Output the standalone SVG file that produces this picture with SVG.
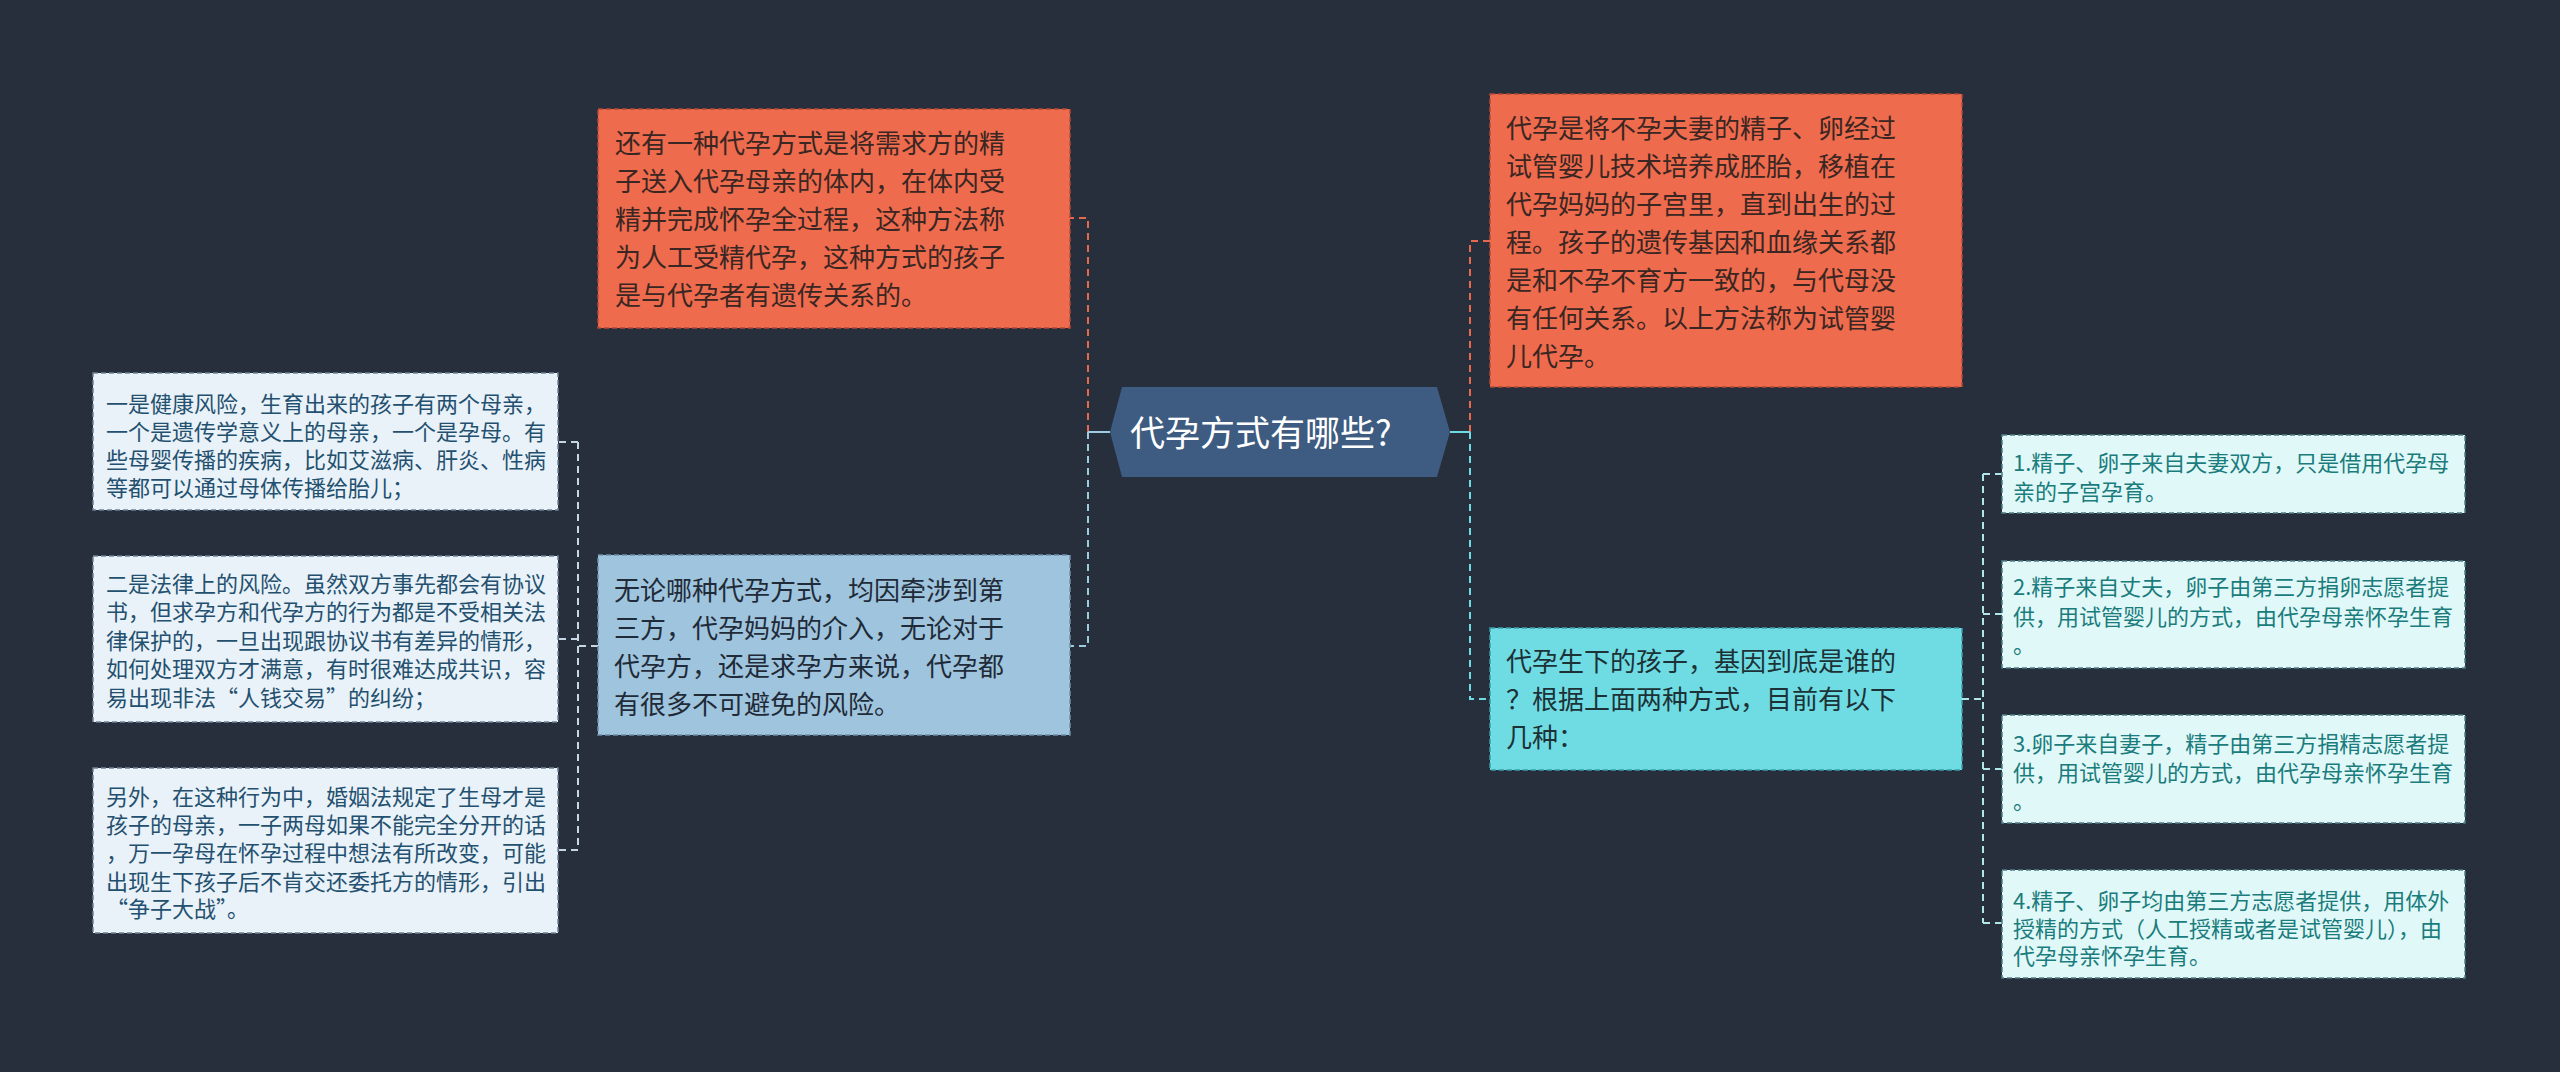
<svg xmlns="http://www.w3.org/2000/svg" width="2560" height="1072" viewBox="0 0 2560 1072">
<style>
text{font-family:"Noto Sans CJK SC","Noto Sans",sans-serif;}
.t26{font-size:26px;}
.t22{font-size:22px;}
.c{fill:none;stroke-width:2;stroke-dasharray:7 5;}
.orange rect{fill:#ee6b4d;stroke:#b44a35;stroke-width:1.5;stroke-dasharray:5 3;}
.orange text{fill:#3a2622;}
.blue rect{fill:#9fc4dd;stroke:#6f8ea8;stroke-width:1.5;stroke-dasharray:5 3;}
.blue text{fill:#1f2b38;}
.cyan rect{fill:#6fdce4;stroke:#3a9fa8;stroke-width:1.5;stroke-dasharray:5 3;}
.cyan text{fill:#1c3236;}
.lb rect{fill:#e9f2f8;stroke:#6f8296;stroke-width:1.5;stroke-dasharray:5 3;}
.lb text{fill:#24506f;}
.lc rect{fill:#e1f8f9;stroke:#4f7f86;stroke-width:1.5;stroke-dasharray:5 3;}
.lc text{fill:#1a7c7c;}
</style>
<rect x="0" y="0" width="2560" height="1072" fill="#272f3d"/>
<g id="connectors">
  <path class="c" d="M1088 432 V218 H1070" stroke="#e6694d"/>
  <path class="c" d="M1088 432 V646 H1070" stroke="#9fcbe1"/>
  <path d="M1088 432 H1110" stroke="#9fcbe1" stroke-width="2" fill="none"/>
  <path class="c" d="M1470 432 V241 H1490" stroke="#e6694d"/>
  <path class="c" d="M1470 432 V699 H1490" stroke="#6fdce4"/>
  <path d="M1450 432 H1470" stroke="#6fdce4" stroke-width="2" fill="none"/>
  <path class="c" d="M598 646 H578 M578 442 V850 M578 442 H558 M578 639 H558 M578 850 H558" stroke="#c5d6e4"/>
  <path class="c" d="M1962 699 H1983 M1983 474 V923 M1983 474 H2002 M1983 614 H2002 M1983 769 H2002 M1983 923 H2002" stroke="#aee6ea"/>
</g>
<g id="root">
  <polygon points="1110,432 1122,387 1437,387 1450,432 1437,477 1122,477" fill="#3e5b81"/>
  <text x="1130" y="446" font-size="35" fill="#ffffff">代孕方式有哪些?</text>
</g>
<g id="n1" class="orange">
  <rect x="598" y="109" width="472" height="219"/>
  <text class="t26" x="615" y="153">还有一种代孕方式是将需求方的精</text>
  <text class="t26" x="615" y="191">子送入代孕母亲的体内，在体内受</text>
  <text class="t26" x="615" y="229">精并完成怀孕全过程，这种方法称</text>
  <text class="t26" x="615" y="267">为人工受精代孕，这种方式的孩子</text>
  <text class="t26" x="615" y="305">是与代孕者有遗传关系的。</text>
</g>
<g id="n2" class="blue">
  <rect x="598" y="555" width="472" height="180"/>
  <text class="t26" x="614" y="600">无论哪种代孕方式，均因牵涉到第</text>
  <text class="t26" x="614" y="638">三方，代孕妈妈的介入，无论对于</text>
  <text class="t26" x="614" y="676">代孕方，还是求孕方来说，代孕都</text>
  <text class="t26" x="614" y="714">有很多不可避免的风险。</text>
</g>
<g id="n3" class="lb">
  <rect x="93" y="373" width="465" height="137"/>
  <text class="t22" x="106" y="412">一是健康风险，生育出来的孩子有两个母亲，</text>
  <text class="t22" x="106" y="440">一个是遗传学意义上的母亲，一个是孕母。有</text>
  <text class="t22" x="106" y="468">些母婴传播的疾病，比如艾滋病、肝炎、性病</text>
  <text class="t22" x="106" y="496">等都可以通过母体传播给胎儿；</text>
</g>
<g id="n4" class="lb">
  <rect x="93" y="556" width="465" height="166"/>
  <text class="t22" x="106" y="592">二是法律上的风险。虽然双方事先都会有协议</text>
  <text class="t22" x="106" y="620">书，但求孕方和代孕方的行为都是不受相关法</text>
  <text class="t22" x="106" y="649">律保护的，一旦出现跟协议书有差异的情形，</text>
  <text class="t22" x="106" y="677">如何处理双方才满意，有时很难达成共识，容</text>
  <text class="t22" x="106" y="706">易出现非法“人钱交易”的纠纷；</text>
</g>
<g id="n5" class="lb">
  <rect x="93" y="768" width="465" height="165"/>
  <text class="t22" x="106" y="805">另外，在这种行为中，婚姻法规定了生母才是</text>
  <text class="t22" x="106" y="833">孩子的母亲，一子两母如果不能完全分开的话</text>
  <text class="t22" x="106" y="861">，万一孕母在怀孕过程中想法有所改变，可能</text>
  <text class="t22" x="106" y="890">出现生下孩子后不肯交还委托方的情形，引出</text>
  <text class="t22" x="106" y="917">“争子大战”。</text>
</g>
<g id="n6" class="orange">
  <rect x="1490" y="94" width="472" height="293"/>
  <text class="t26" x="1506" y="138">代孕是将不孕夫妻的精子、卵经过</text>
  <text class="t26" x="1506" y="176">试管婴儿技术培养成胚胎，移植在</text>
  <text class="t26" x="1506" y="214">代孕妈妈的子宫里，直到出生的过</text>
  <text class="t26" x="1506" y="252">程。孩子的遗传基因和血缘关系都</text>
  <text class="t26" x="1506" y="290">是和不孕不育方一致的，与代母没</text>
  <text class="t26" x="1506" y="328">有任何关系。以上方法称为试管婴</text>
  <text class="t26" x="1506" y="366">儿代孕。</text>
</g>
<g id="n7" class="cyan">
  <rect x="1490" y="628" width="472" height="142"/>
  <text class="t26" x="1506" y="671">代孕生下的孩子，基因到底是谁的</text>
  <text class="t26" x="1506" y="709">？根据上面两种方式，目前有以下</text>
  <text class="t26" x="1506" y="747">几种：</text>
</g>
<g id="n8" class="lc">
  <rect x="2002" y="435" width="463" height="78"/>
  <text class="t22" x="2013" y="471">1.精子、卵子来自夫妻双方，只是借用代孕母</text>
  <text class="t22" x="2013" y="500">亲的子宫孕育。</text>
</g>
<g id="n9" class="lc">
  <rect x="2002" y="561" width="463" height="107"/>
  <text class="t22" x="2013" y="595">2.精子来自丈夫，卵子由第三方捐卵志愿者提</text>
  <text class="t22" x="2013" y="625">供，用试管婴儿的方式，由代孕母亲怀孕生育</text>
  <text class="t22" x="2013" y="653">。</text>
</g>
<g id="n10" class="lc">
  <rect x="2002" y="715" width="463" height="108"/>
  <text class="t22" x="2013" y="752">3.卵子来自妻子，精子由第三方捐精志愿者提</text>
  <text class="t22" x="2013" y="781">供，用试管婴儿的方式，由代孕母亲怀孕生育</text>
  <text class="t22" x="2013" y="809">。</text>
</g>
<g id="n11" class="lc">
  <rect x="2002" y="870" width="463" height="108"/>
  <text class="t22" x="2013" y="909">4.精子、卵子均由第三方志愿者提供，用体外</text>
  <text class="t22" x="2013" y="937">授精的方式（人工授精或者是试管婴儿），由</text>
  <text class="t22" x="2013" y="964">代孕母亲怀孕生育。</text>
</g>
</svg>
